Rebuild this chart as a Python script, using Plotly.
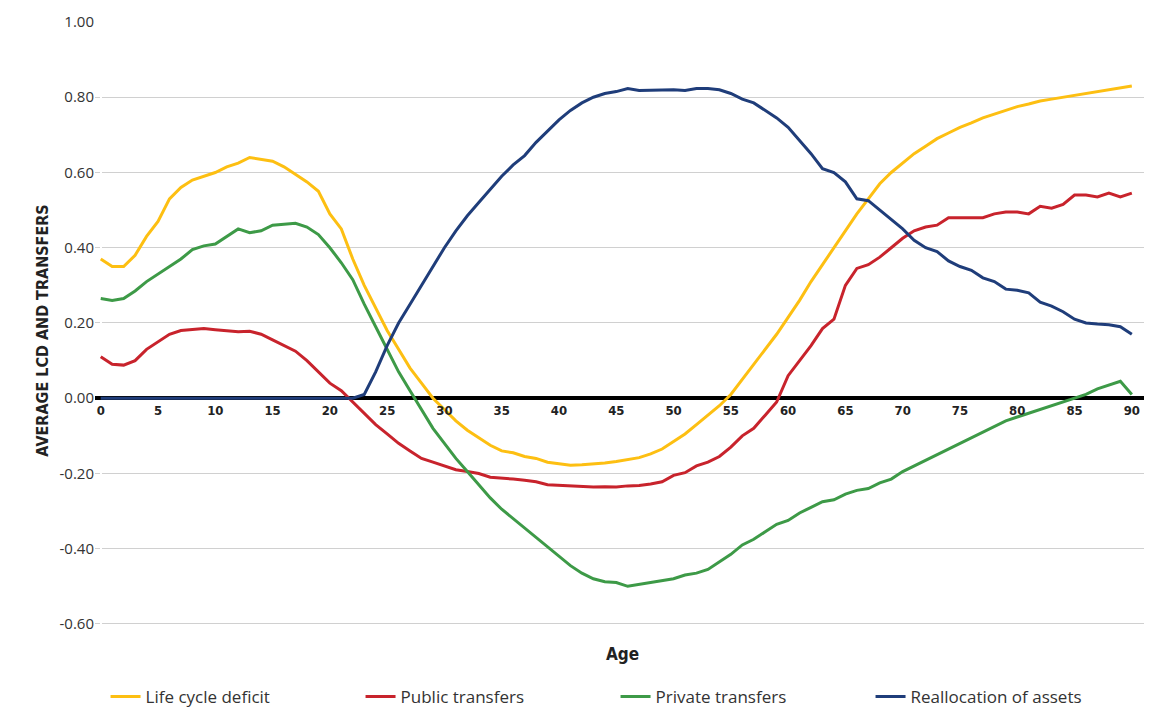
import plotly.graph_objects as go

ages = list(range(0, 91))

life_cycle_deficit = [0.37, 0.35, 0.35, 0.38, 0.43, 0.47, 0.53, 0.56, 0.58, 0.59,
                      0.60, 0.615, 0.625, 0.64, 0.635, 0.63, 0.615, 0.595, 0.575, 0.55,
                      0.49, 0.45, 0.37, 0.30, 0.24, 0.18, 0.13, 0.08, 0.04, 0.0,
                      -0.03, -0.06, -0.085, -0.105, -0.125, -0.14, -0.145, -0.155, -0.16, -0.17,
                      -0.175, -0.178, -0.177, -0.175, -0.172, -0.168, -0.163, -0.158, -0.148, -0.135,
                      -0.115, -0.095, -0.07, -0.045, -0.02, 0.01, 0.05, 0.09, 0.13, 0.17,
                      0.215, 0.26, 0.31, 0.355, 0.40, 0.445, 0.49, 0.53, 0.57, 0.60,
                      0.625, 0.65, 0.67, 0.69, 0.705, 0.72, 0.732, 0.745, 0.755, 0.765,
                      0.775, 0.782, 0.79, 0.795, 0.80, 0.805, 0.81, 0.815, 0.82, 0.825, 0.83]

public_transfers = [0.11, 0.09, 0.088, 0.10, 0.13, 0.15, 0.17, 0.18, 0.182, 0.185,
                    0.182, 0.18, 0.177, 0.178, 0.17, 0.155, 0.14, 0.125, 0.10, 0.07,
                    0.04, 0.02, -0.01, -0.04, -0.07, -0.095, -0.12, -0.14, -0.16, -0.17,
                    -0.18, -0.19, -0.195, -0.20, -0.21, -0.212, -0.215, -0.218, -0.222, -0.23,
                    -0.232, -0.232, -0.234, -0.236, -0.235, -0.236, -0.233, -0.232, -0.228, -0.222,
                    -0.205, -0.198, -0.18, -0.17, -0.155, -0.13, -0.10, -0.08, -0.045, -0.01,
                    0.06, 0.10, 0.14, 0.185, 0.21, 0.30, 0.345, 0.355, 0.375, 0.40,
                    0.425, 0.445, 0.455, 0.46, 0.48, 0.48, 0.48, 0.48, 0.49, 0.495,
                    0.495, 0.49, 0.51, 0.505, 0.515, 0.54, 0.54, 0.535, 0.545, 0.535, 0.545]

private_transfers = [0.265, 0.26, 0.265, 0.285, 0.31, 0.33, 0.35, 0.37, 0.395, 0.405,
                     0.41, 0.43, 0.45, 0.44, 0.445, 0.46, 0.462, 0.465, 0.455, 0.435,
                     0.40, 0.36, 0.315, 0.25, 0.19, 0.13, 0.07, 0.02, -0.03, -0.08,
                     -0.12, -0.16, -0.195, -0.23, -0.265, -0.295, -0.32, -0.345, -0.37, -0.395,
                     -0.42, -0.445, -0.465, -0.48, -0.488, -0.49, -0.50, -0.495, -0.49, -0.485,
                     -0.48, -0.47, -0.465, -0.455, -0.435, -0.415, -0.39, -0.375, -0.355, -0.335,
                     -0.325, -0.305, -0.29, -0.275, -0.27, -0.255, -0.245, -0.24, -0.225, -0.215,
                     -0.195, -0.18, -0.165, -0.15, -0.135, -0.12, -0.105, -0.09, -0.075, -0.06,
                     -0.05, -0.04, -0.03, -0.02, -0.01, 0.0, 0.01, 0.025, 0.035, 0.045, 0.01]

reallocation_assets = [0.0] * 23 + [0.01, 0.07, 0.14, 0.20, 0.25, 0.30, 0.35,
                       0.40, 0.445, 0.485, 0.52, 0.555, 0.59, 0.62, 0.645, 0.68, 0.71,
                       0.74, 0.765, 0.785, 0.80, 0.81, 0.815, 0.823, 0.818, 0.819, 0.818,
                       0.82, 0.818, 0.823, 0.823, 0.82, 0.81, 0.795, 0.785, 0.765, 0.745,
                       0.72, 0.685, 0.65, 0.61, 0.60, 0.575, 0.53, 0.525, 0.50, 0.475,
                       0.45, 0.42, 0.40, 0.39, 0.365, 0.35, 0.34, 0.32, 0.31, 0.29,
                       0.287, 0.28, 0.255, 0.245, 0.23, 0.21, 0.2, 0.197, 0.195, 0.19, 0.17]

y_ticks = [1.0, 0.8, 0.6, 0.4, 0.2, 0.0, -0.2, -0.4, -0.6]
y_labels = ["1.00", "0.80", "0.60", "0.40", "0.20", "0.00", "-0.20", "-0.40", "-0.60"]

series = [
    ("Life cycle deficit", life_cycle_deficit, "#FDBF12"),
    ("Public transfers", public_transfers, "#C8232C"),
    ("Private transfers", private_transfers, "#3D9A47"),
    ("Reallocation of assets", reallocation_assets, "#1F3D7A"),
]

fig = go.Figure()
for name, vals, col in series:
    fig.add_trace(go.Scatter(x=ages, y=vals, mode="lines", name=name,
                             line=dict(color=col, width=3)))

cond = "DejaVu Sans Condensed"
fig.update_layout(
    width=1152, height=708,
    plot_bgcolor="white", paper_bgcolor="white",
    margin=dict(l=87, r=11, t=14, b=77, autoexpand=False),
    font=dict(family="Open Sans", color="#333333"),
    xaxis=dict(range=[-0.5, 91.5], tickvals=list(range(0, 91, 5)), showgrid=False,
               anchor="free", position=0.385, showline=False, ticks="",
               tickfont=dict(family=cond, size=13, weight="bold", color="#222222")),
    yaxis=dict(range=[-0.64, 1.0], tickvals=y_ticks, ticktext=y_labels, showgrid=True,
               gridcolor="#D0D0D0", zeroline=True, zerolinecolor="black", zerolinewidth=4,
               tickfont=dict(size=15, color="#333333"),
               title=dict(text="AVERAGE LCD AND TRANSFERS", standoff=6,
                          font=dict(family=cond, size=16, weight="bold", color="#222222"))),
    legend=dict(orientation="h", x=0.01, xanchor="left", y=-0.094, yanchor="middle",
                entrywidth=210, font=dict(size=17, color="#333333")),
)
fig.add_annotation(text="Age", x=0.5, xref="paper", y=-0.025, yref="paper", showarrow=False,
                   yanchor="middle",
                   font=dict(family=cond, size=17, weight="bold", color="#222222"))

fig.write_html("out.html")
